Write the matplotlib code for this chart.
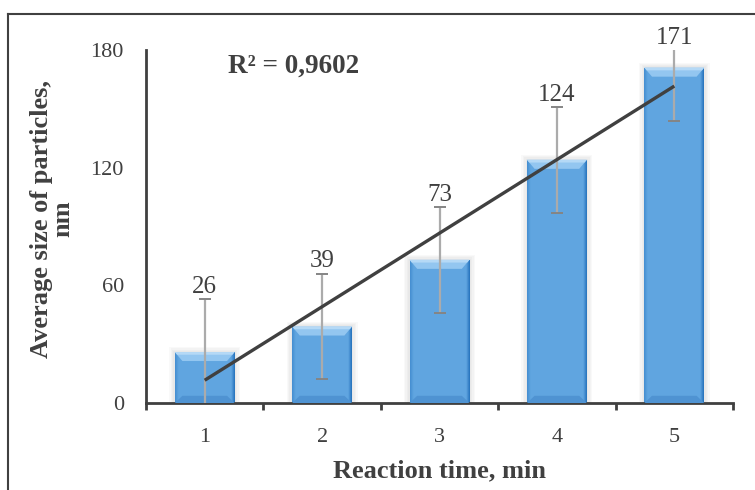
import numpy as np
import matplotlib
matplotlib.use("Agg")
import matplotlib.pyplot as plt
from matplotlib.patches import Rectangle, Polygon
from matplotlib.lines import Line2D

categories = [1, 2, 3, 4, 5]
values = [26, 39, 73, 124, 171]
errors = [27, 27, 27, 27, 27]
yticks = [0, 60, 120, 180]
r2_label = "R² = 0,9602"
xlabel = "Reaction time, min"
ylabel = "Average size of particles,\nnm"

plt.rcParams['font.family'] = ['Liberation Serif', 'DejaVu Serif']

fig = plt.figure(figsize=(7.55, 4.9), dpi=100)
ax = fig.add_axes([146/755, 1-403/490, (733-146)/755, (403-50)/490])

x = np.arange(len(categories))
bw = 0.51
ax.set_xlim(-0.5, len(categories)-0.5)
ax.set_ylim(0, 180)

# gradient bars: flat middle, darker narrow edges (right edge darker)
g = np.linspace(0, 1, 120)
c_mid = np.array([0.38, 0.65, 0.88])
c_left = np.array([0.27, 0.56, 0.82])
c_right = np.array([0.15, 0.45, 0.74])
wl = np.clip(1 - g / 0.06, 0, 1)
wr = np.clip(1 - (1 - g) / 0.06, 0, 1)
img = c_mid[None, :] * (1 - wl[:, None] - wr[:, None]) + c_left[None, :] * wl[:, None] + c_right[None, :] * wr[:, None]
img = img[None, :, :]
for xi, v in zip(x, values):
    # soft shadow
    for k in range(4):
        d = 0.012 * (k + 1)
        ax.add_patch(Rectangle((xi - bw/2 - d, 0), bw + 2*d, v + 0.6*(k+1),
                               facecolor='#7f7f7f', alpha=0.045, edgecolor='none', zorder=1))
    rect = Rectangle((xi - bw/2, 0), bw, v, facecolor='none', edgecolor='none', zorder=2)
    ax.add_patch(rect)
    im = ax.imshow(img, extent=(xi - bw/2, xi + bw/2, 0, v), aspect='auto', zorder=2,
                   interpolation='bilinear')
    im.set_clip_path(rect)
    # top bevel
    bev = min(4.6, v * 0.2)
    ins = 0.065
    ax.add_patch(Polygon([(xi - bw/2, v), (xi + bw/2, v), (xi + bw/2 - ins, v - bev),
                          (xi - bw/2 + ins, v - bev)], closed=True,
                         facecolor='#93c6f0', edgecolor='none', zorder=3))
    ax.add_patch(Polygon([(xi - bw/2, v), (xi + bw/2, v), (xi + bw/2 - ins*0.3, v - bev*0.3),
                          (xi - bw/2 + ins*0.3, v - bev*0.3)], closed=True,
                         facecolor='#b5d9f6', edgecolor='none', zorder=3))
    # bottom bevel
    ax.add_patch(Polygon([(xi - bw/2, 0), (xi + bw/2, 0), (xi + bw/2 - ins, bev*0.8),
                          (xi - bw/2 + ins, bev*0.8)], closed=True,
                         facecolor='#4f93d2', edgecolor='none', zorder=3))

# error bars
ax.errorbar(x, values, yerr=errors, fmt='none', ecolor='#ababab', elinewidth=1.6,
            capsize=4.3, capthick=1.4, zorder=4)
for line in ax.lines:
    line.set_markeredgecolor('#858585')

# data labels
for xi, v, e in zip(x, values, errors):
    ax.text(xi, min(v + e, 180) + 0.6, str(v), ha='center', va='bottom',
            fontsize=18, color='#404040', zorder=6)

# linear trend
coef = np.polyfit(np.array(categories, float), np.array(values, float), 1)
xt = np.array([categories[0], categories[-1]], float)
ax.plot(xt - 1, np.polyval(coef, xt), color='#404040', lw=2.4, zorder=5,
        solid_capstyle='butt')

ax.text(0.14, 0.955, r2_label, transform=ax.transAxes, fontsize=19.5,
        fontweight='bold', color='#404040', ha='left', va='center')

# axes styling
for s in ['top', 'right']:
    ax.spines[s].set_visible(False)
for s in ['left', 'bottom']:
    ax.spines[s].set_color('#404040')
    ax.spines[s].set_linewidth(2)
ax.set_yticks(yticks)
ax.set_yticklabels([str(t) for t in yticks], fontsize=16, color='#404040')
ax.tick_params(axis='y', length=0, pad=16)
ax.set_xticks(x)
ax.set_xticklabels([str(c) for c in categories], fontsize=16, color='#404040')
ax.tick_params(axis='x', length=0, pad=18)
ax.set_xticks(np.arange(len(categories) + 1) - 0.5, minor=True)
ax.tick_params(axis='x', which='minor', length=5, width=2, color='#404040', direction='out')

ax.set_xlabel(xlabel, fontsize=19, fontweight='bold', color='#404040', labelpad=9)
ax.set_ylabel(ylabel, fontsize=19, fontweight='bold', color='#404040',
              linespacing=0.9)
ax.yaxis.set_label_coords(-(146 - 74) / (733 - 146), (403 - 219) / 353)

# outer frame (left and top visible)
fig.add_artist(Line2D([8/755, 8/755], [0, 1-14/490], transform=fig.transFigure,
                      color='#404040', lw=1.5))
fig.add_artist(Line2D([8/755, 1], [1-14/490, 1-14/490], transform=fig.transFigure,
                      color='#404040', lw=1.5))

fig.savefig("out.png", dpi=100)
